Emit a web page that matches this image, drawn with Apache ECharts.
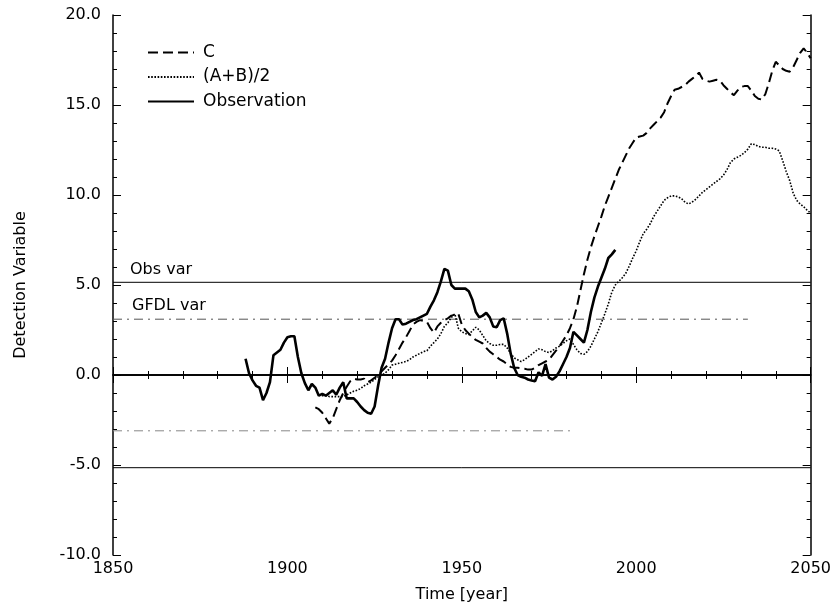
<!DOCTYPE html>
<html>
<head>
<meta charset="utf-8">
<script src="https://cdn.jsdelivr.net/npm/echarts@6/dist/echarts.min.js"></script>
<style>html,body{margin:0;padding:0;background:#fff}#c{width:834px;height:610px}</style>
</head>
<body>
<div id="c"></div>
<script>
// ---- data ----
const xTicks = [1850, 1900, 1950, 2000, 2050];
const yTicks = [-10, -5, 0, 5, 10, 15, 20];

const obsYears = [];
for (let y = 1888; y <= 1994; y++) obsYears.push(y);
const obsValues = [0.9,0.1,-0.3,-0.6,-0.7,-1.4,-1.0,-0.4,1.1,1.25,
  1.4,1.8,2.1,2.15,2.15,1.0,0.1,-0.45,-0.85,-0.5,
  -0.7,-1.15,-1.05,-1.15,-1.0,-0.85,-1.1,-0.7,-0.4,-1.3,
  -1.3,-1.3,-1.5,-1.75,-1.95,-2.1,-2.15,-1.75,-0.6,0.4,
  0.9,1.8,2.6,3.1,3.1,2.8,2.85,2.95,3.05,3.1,
  3.2,3.3,3.4,3.8,4.15,4.6,5.2,5.9,5.8,5.0,
  4.8,4.8,4.8,4.8,4.65,4.2,3.5,3.2,3.3,3.45,
  3.2,2.7,2.65,3.05,3.15,2.3,1.2,0.4,0.0,-0.1,
  -0.15,-0.25,-0.3,-0.35,0.15,-0.05,0.6,-0.15,-0.25,-0.1,
  0.2,0.6,1.0,1.5,2.4,2.2,2.0,1.8,2.5,3.5,
  4.3,4.9,5.4,5.9,6.5,6.7,6.95];

const cYears = [];
for (let y = 1908; y <= 2050; y++) cYears.push(y);
const cValues = [-1.8,-1.9,-2.1,-2.4,-2.7,-2.4,-1.9,-1.4,-1.0,-0.65,
  -0.35,-0.2,-0.25,-0.25,-0.2,-0.4,-0.3,-0.15,0.0,0.2,
  0.4,0.6,0.8,1.1,1.45,1.8,2.1,2.45,2.8,2.95,
  3.05,3.0,2.95,2.6,2.35,2.7,2.9,3.05,3.15,3.3,
  3.35,3.4,2.8,2.5,2.3,2.1,1.95,1.85,1.75,1.5,
  1.3,1.15,1.0,0.85,0.75,0.6,0.45,0.4,0.4,0.37,
  0.35,0.3,0.3,0.4,0.55,0.65,0.75,0.85,1.1,1.35,
  1.6,1.9,2.2,2.6,3.1,3.8,4.7,5.6,6.4,7.1,
  7.7,8.25,8.8,9.4,9.9,10.4,10.9,11.4,11.8,12.2,
  12.6,12.9,13.2,13.25,13.3,13.45,13.7,13.9,14.1,14.3,
  14.6,15.1,15.5,15.85,15.9,16.0,16.1,16.3,16.45,16.6,
  16.8,16.45,16.35,16.3,16.35,16.4,16.35,16.1,15.9,15.7,
  15.55,15.8,16.0,16.05,16.05,15.8,15.5,15.35,15.3,15.6,
  16.2,16.9,17.4,17.2,17.0,16.9,16.85,17.1,17.5,17.9,
  18.15,17.9,17.6];

const abYears = [];
for (let y = 1909; y <= 2050; y++) abYears.push(y);
const abValues = [-1.1,-1.15,-1.15,-1.2,-1.2,-1.2,-1.2,-1.2,-1.1,-1.0,
  -0.9,-0.85,-0.75,-0.6,-0.5,-0.4,-0.25,-0.1,0.0,0.1,
  0.3,0.55,0.6,0.65,0.7,0.75,0.85,1.0,1.1,1.2,
  1.3,1.35,1.6,1.8,2.0,2.3,2.7,2.9,3.2,3.4,
  2.6,2.4,2.3,2.25,2.45,2.65,2.5,2.2,1.9,1.75,
  1.65,1.65,1.7,1.7,1.5,1.2,0.95,0.85,0.75,0.85,
  1.0,1.15,1.3,1.45,1.4,1.3,1.25,1.35,1.5,1.6,
  1.75,1.9,2.0,1.7,1.4,1.2,1.15,1.3,1.6,2.0,
  2.4,2.9,3.4,3.95,4.6,5.0,5.2,5.4,5.65,6.05,
  6.5,6.9,7.4,7.85,8.1,8.4,8.8,9.1,9.4,9.7,
  9.85,9.95,9.95,9.9,9.8,9.6,9.5,9.6,9.75,9.95,
  10.15,10.3,10.45,10.6,10.75,10.9,11.1,11.4,11.8,12.0,
  12.1,12.2,12.35,12.55,12.85,12.8,12.7,12.65,12.65,12.6,
  12.6,12.55,12.45,11.9,11.3,10.8,10.1,9.7,9.5,9.35,
  9.15,9.0];

// reference levels
const obsVar = 5.15;
const gfdlVar = 3.1;
const obsVarSpan = [1850, 2050];
const gfdlPosSpan = [1850, 2032];
const gfdlNegSpan = [1850, 1982];
const zeroSpan = [1850, 2050];

function zip(xs, ys) { return xs.map((x, i) => [x, ys[i]]); }
function hline(span, v) { return span.map(x => [x, v]); }

const FONT = 'DejaVu Sans';
const chart = echarts.init(document.getElementById('c'), null, {renderer: 'canvas'});
const refLine = (name, data, style) => ({
  name, type: 'line', data, showSymbol: false, symbol: 'none', silent: true,
  lineStyle: style, z: 1
});

chart.setOption({
  animation: false,
  backgroundColor: '#fff',
  textStyle: {fontFamily: FONT},
  grid: {left: 113, right: 23, top: 15, bottom: 55},
  legend: {
    data: ['C', '(A+B)/2', 'Observation'],
    orient: 'vertical', left: 147, top: 44, padding: 0,
    itemWidth: 46, itemHeight: 14, itemGap: 7.5,
    itemStyle: {opacity: 0},
    textStyle: {fontFamily: FONT, fontSize: 17, color: '#000', lineHeight: 16, padding: [0,0,0,4]},
    selectedMode: false
  },
  xAxis: [{
    type: 'value', min: 1850, max: 2050, interval: 50,
    name: 'Time [year]', nameLocation: 'middle', nameGap: 32,
    nameTextStyle: {fontFamily: FONT, fontSize: 16, color: '#000'},
    axisLine: {lineStyle: {color: '#000', width: 1.5}},
    axisTick: {inside: true, length: 8, lineStyle: {color: '#000'}},
    minorTick: {show: true, splitNumber: 5, length: 4, lineStyle: {color: '#000'}},
    axisLabel: {fontFamily: FONT, fontSize: 16, color: '#000', margin: 6,
      formatter: v => xTicks.includes(v) ? String(v) : ''},
    splitLine: {show: false}
  }, {
    type: 'value', min: 1850, max: 2050, interval: 50, position: 'top',
    axisLine: {lineStyle: {color: '#000', width: 1.5}},
    axisTick: {inside: true, length: 8, lineStyle: {color: '#000'}},
    minorTick: {show: true, splitNumber: 5, length: 4, lineStyle: {color: '#000'}},
    axisLabel: {show: false}, splitLine: {show: false}
  }],
  yAxis: [{
    type: 'value', min: -10, max: 20, interval: 5,
    name: 'Detection Variable', nameLocation: 'middle', nameGap: 84,
    nameTextStyle: {fontFamily: FONT, fontSize: 16, color: '#000'},
    axisLine: {show: true, lineStyle: {color: '#000', width: 1.5}},
    axisTick: {inside: true, length: 8, lineStyle: {color: '#000'}},
    minorTick: {show: true, splitNumber: 5, length: 4, lineStyle: {color: '#000'}},
    axisLabel: {fontFamily: FONT, fontSize: 16, color: '#000', margin: 12,
      formatter: v => yTicks.includes(v) ? v.toFixed(1) : ''},
    splitLine: {show: false}
  }, {
    type: 'value', min: -10, max: 20, interval: 5, position: 'right',
    axisLine: {show: true, lineStyle: {color: '#000', width: 1.5}},
    axisTick: {inside: true, length: 8, lineStyle: {color: '#000'}},
    minorTick: {show: true, splitNumber: 5, length: 4, lineStyle: {color: '#000'}},
    axisLabel: {show: false}, splitLine: {show: false}
  }],
  series: [
    refLine('zero', hline(zeroSpan, 0), {color: '#000', width: 1.2}),
    refLine('obsvar+', hline(obsVarSpan, obsVar), {color: '#000', width: 1}),
    refLine('obsvar-', hline(obsVarSpan, -obsVar), {color: '#000', width: 1}),
    refLine('gfdl+', hline(gfdlPosSpan, gfdlVar), {color: '#555', width: 1, type: [9, 5, 2, 5]}),
    refLine('gfdl-', hline(gfdlNegSpan, -gfdlVar), {color: '#888', width: 1, type: [9, 5, 2, 5]}),
    {
      name: 'C', type: 'line', data: zip(cYears, cValues), showSymbol: false, symbol: 'none',
      lineStyle: {color: '#000', width: 2, type: [10, 5]}, itemStyle: {color: '#000'}, z: 3
    },
    {
      name: '(A+B)/2', type: 'line', data: zip(abYears, abValues), showSymbol: false, symbol: 'none',
      lineStyle: {color: '#000', width: 1.6, type: [1.6, 1.6]}, itemStyle: {color: '#000'}, z: 3
    },
    {
      name: 'Observation', type: 'line', data: zip(obsYears, obsValues), showSymbol: false, symbol: 'none',
      lineStyle: {color: '#000', width: 2.6}, itemStyle: {color: '#000'}, z: 4
    }
  ],
  graphic: [
    {type: 'text', left: 130, top: 262, style: {text: 'Obs var', font: '16px "DejaVu Sans"', fill: '#000'}},
    {type: 'text', left: 132, top: 298, style: {text: 'GFDL var', font: '16px "DejaVu Sans"', fill: '#000'}}
  ]
});
</script>
</body>
</html>
